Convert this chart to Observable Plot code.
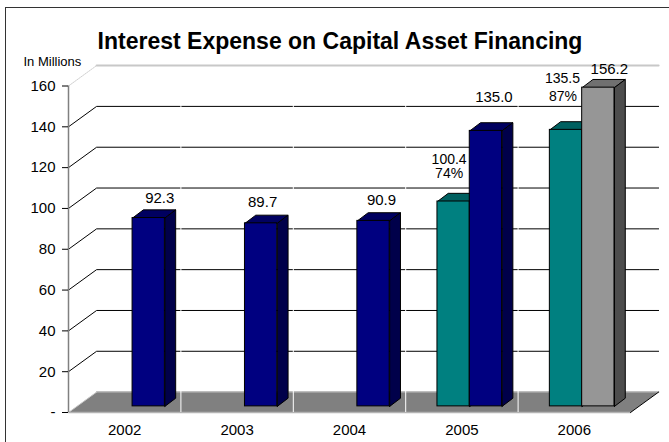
<!DOCTYPE html>
<html>
<head>
<meta charset="utf-8">
<script src="https://cdn.jsdelivr.net/npm/d3@7"></script>
<script src="https://cdn.jsdelivr.net/npm/@observablehq/plot@0.6"></script>
<style>
html,body{margin:0;padding:0;background:#fff;}
#chart{position:relative;width:669px;height:442px;overflow:hidden;}
#chart svg{display:block;position:absolute;left:0;top:0;background:transparent;}
#frame{position:absolute;left:5px;top:7px;width:700px;height:500px;border:1.5px solid #333;box-sizing:border-box;}
</style>
</head>
<body>
<div id="chart"><div id="frame"></div></div>
<script>
const years = ["2002", "2003", "2004", "2005", "2006"];
const yTicks = [0, 20, 40, 60, 80, 100, 120, 140, 160];
const tealValues = [null, null, null, 100.4, 135.5];
const tealPercents = [null, null, null, "74%", "87%"];
const mainValues = [92.3, 89.7, 90.9, 135.0, 156.2];
const mainKinds = ["navy", "navy", "navy", "navy", "grey"];

const palette = {
  navy: {front: "#000080", top: "#000060", side: "#00004a"},
  teal: {front: "#008080", top: "#006060", side: "#004a4a"},
  grey: {front: "#969696", top: "#707070", side: "#4d4d4d"}
};

const font = "Arial, 'Liberation Sans', sans-serif";
const wallX = 0.25, wallY = 10;      // depth of the back wall, in scale units
const barX = 0.096, barY = 4;        // depth of a bar
const baseY = 3;                     // bars stand slightly back from the front edge
const barW = 0.2875;
const tealOff = 0.2825, mainOff = 0.57;
const nCat = years.length;

function poly(points, fill, stroke, extra = {}) {
  return Plot.line(points, {x: "x", y: "y", fill, stroke, strokeWidth: 1, curve: "linear", ...extra});
}
const P = (x, y) => ({x, y});

function bar3d(i, off, value, kind) {
  const c = palette[kind];
  const x1 = i + off, x2 = x1 + barW, y0 = baseY, y1 = value + baseY;
  return [
    poly([P(x1, y1), P(x1 + barX, y1 + barY), P(x2 + barX, y1 + barY), P(x2, y1), P(x1, y1)], c.top, "#000"),
    poly([P(x2, y0), P(x2 + barX, y0 + barY), P(x2 + barX, y1 + barY), P(x2, y1), P(x2, y0)], c.side, "#000"),
    Plot.rect([{x1, x2, y0, y1}], {x1: "x1", x2: "x2", y1: "y0", y2: "y1", fill: c.front, stroke: "#000", strokeWidth: 1})
  ];
}

const gridVals = yTicks.filter(d => d > 0 && d < 160);
const gridMarks = gridVals.map(v =>
  poly([P(0, v), P(wallX, v + wallY), P(nCat + wallX, v + wallY)], "none", "#000"));

const barMarks = [];
years.forEach((y, i) => {
  if (tealValues[i] != null) barMarks.push(...bar3d(i, tealOff, tealValues[i], "teal"));
  barMarks.push(...bar3d(i, mainOff, mainValues[i], mainKinds[i]));
});

// data labels: anchored on their bars, nudged in pixels
const fmt = d => d.toFixed(1);
const mainNudge = [[11, -20], [1.5, -21], [8, -21], [8, -33.5], [11, -18]];
const tealNudge = {3: [-4.5, -41.5], 4: [-3.5, -51]};
const pctNudge = {3: [-4.5, -28], 4: [-3, -33]};
const labels = [];
years.forEach((y, i) => {
  labels.push({x: i + mainOff + barW / 2, y: mainValues[i] + baseY, t: fmt(mainValues[i]), n: mainNudge[i], s: 15});
  if (tealValues[i] != null) {
    labels.push({x: i + tealOff + barW / 2, y: tealValues[i] + baseY, t: fmt(tealValues[i]), n: tealNudge[i], s: 14});
    labels.push({x: i + tealOff + barW / 2, y: tealValues[i] + baseY, t: tealPercents[i], n: pctNudge[i], s: 14});
  }
});
const labelMarks = labels.map(l =>
  Plot.text([l], {x: "x", y: "y", text: "t", dx: l.n[0], dy: l.n[1], fontSize: l.s, fill: "#000", fontFamily: font}));

const chart = Plot.plot({
  width: 669, height: 442,
  marginLeft: 68, marginRight: 39, marginTop: 85.5, marginBottom: 30,
  style: {background: "transparent", fontFamily: font},
  x: {domain: [0, nCat]},
  y: {domain: [0, 160]},
  marks: [
    // top wall line (light) and its diagonal
    poly([P(wallX, 160 + wallY), P(nCat + wallX, 160 + wallY)], "none", "#c8c8c8", {strokeWidth: 2}),
    poly([P(0, 160), P(wallX, 160 + wallY)], "none", "#d0d0d0", {strokeDasharray: "1.5,1"}),
    ...gridMarks,
    // floor
    poly([P(0, 0), P(wallX, wallY), P(nCat + wallX, wallY), P(nCat, 0), P(0, 0)], "#808080", "none"),
    poly([P(wallX, wallY), P(nCat + wallX, wallY)], "none", "#a8a8a8", {strokeWidth: 1.5}),
    poly([P(0, 0), P(nCat, 0)], "none", "#b4b4b4", {strokeWidth: 1.5}),
    poly([P(0, 0), P(wallX, wallY)], "none", "#c8c8c8"),
    poly([P(nCat, 0), P(nCat + wallX, wallY)], "none", "#000"),
    Plot.tickX(d3.range(1, nCat), {x: d => d, y1: 0, y2: 1, stroke: "#fff"}),
    ...barMarks,
    // axes
    Plot.ruleX([0], {y1: 0, y2: 160, stroke: "#808080", strokeWidth: 1.5}),
    Plot.axisY({ticks: yTicks, tickSize: 6, tickPadding: 7, stroke: "#000", fill: "#000", fontSize: 15,
      tickFormat: d => d === 0 ? "-" : String(d), label: null}),
    Plot.axisX({ticks: years.map((_, i) => i + 0.5), tickSize: 0, tickPadding: 12, fontSize: 15, fill: "#000",
      tickFormat: d => years[d - 0.5], label: null}),
    ...labelMarks,
    Plot.text(["Interest Expense on Capital Asset Financing"], {frameAnchor: "top", dy: -53.5, dx: -9.5, fontSize: 23, fontWeight: 700, fill: "#000", fontFamily: font}),
    Plot.text(["In Millions"], {frameAnchor: "top-left", dx: -45, dy: -29, fontSize: 13, fill: "#000", fontFamily: font, textAnchor: "start"})
  ]
});
document.getElementById("chart").appendChild(chart);
</script>
</body>
</html>
